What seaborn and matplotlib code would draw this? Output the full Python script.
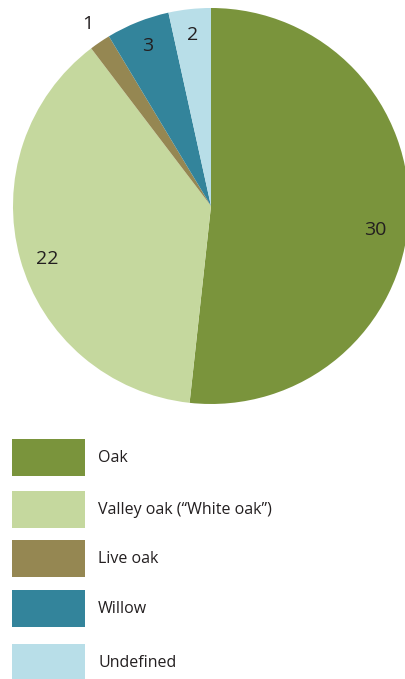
import matplotlib
matplotlib.use("Agg")
import matplotlib.pyplot as plt
import seaborn as sns
import numpy as np
from matplotlib.patches import Rectangle

# data
categories = ["Oak", "Valley oak (\u201cWhite oak\u201d)", "Live oak", "Willow", "Undefined"]
counts = [30, 22, 1, 3, 2]
colors = ["#7a943c", "#c5d89e", "#958752", "#33849b", "#b8dee8"]

sns.set_style("white")
plt.rcParams["font.family"] = ["Open Sans", "DejaVu Sans"]

W, H = 405, 679
fig = plt.figure(figsize=(W / 100, H / 100), dpi=100)

# pie axes, placed in pixel terms
cx, cy, r = 211, 206, 198
ax = fig.add_axes([(cx - r) / W, 1 - (cy + r) / H, 2 * r / W, 2 * r / H])
wedges, _ = ax.pie(counts, colors=colors, startangle=90, counterclock=False,
                   radius=1, wedgeprops=dict(linewidth=0))
ax.set_xlim(-1, 1)
ax.set_ylim(-1, 1)
ax.set_aspect("equal")
ax.axis("off")

# label distance and small angular nudges (degrees) per wedge
label_dist = [0.84, 0.87, 1.11, 0.87, 0.87]
label_nudge = [-5.2, 2.5, 0, 0, 0]
for w, n, d, a in zip(wedges, counts, label_dist, label_nudge):
    mid = np.deg2rad((w.theta1 + w.theta2) / 2 + a)
    ax.text(d * np.cos(mid), d * np.sin(mid), str(n), ha="center", va="center",
            fontsize=14, color="#231f20", clip_on=False)

# legend drawn in its own axes
lax = fig.add_axes([0, 0, 1, 1])
lax.set_xlim(0, W)
lax.set_ylim(H, 0)
lax.axis("off")
row_centers = [457, 509, 558, 608, 662]
for cat, col, yc in zip(categories, colors, row_centers):
    lax.add_patch(Rectangle((12, yc - 18.5), 73, 37, facecolor=col, edgecolor="none"))
    lax.text(98, yc + 1, cat, ha="left", va="center", fontsize=11.5, color="#231f20")

fig.savefig("out.png", dpi=100)
